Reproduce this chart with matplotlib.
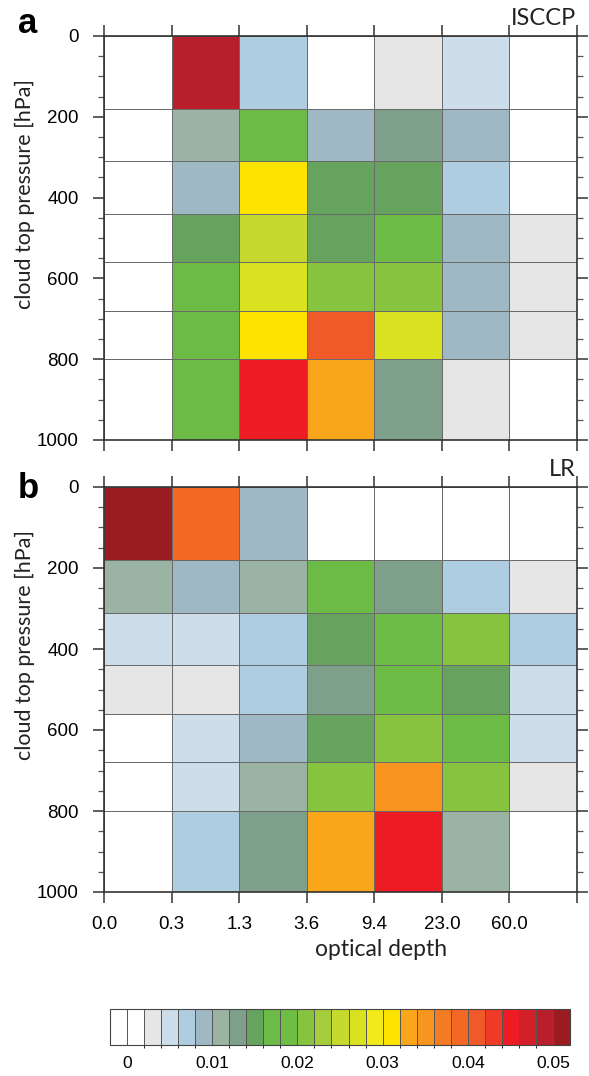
import numpy as np
import matplotlib.pyplot as plt
from matplotlib.colors import ListedColormap, BoundaryNorm
from matplotlib.ticker import MultipleLocator

# optical depth bin edges (labels) and cloud top pressure bin edges
tau_labels = ['0.0', '0.3', '1.3', '3.6', '9.4', '23.0', '60.0']
p_edges = [0, 180, 310, 440, 560, 680, 800, 1000]

# joint histograms, rows = pressure bins (top to bottom), cols = optical depth bins
isccp = [
    [0.001, 0.049, 0.007, 0.001, 0.003, 0.005, 0.001],
    [0.001, 0.011, 0.017, 0.009, 0.013, 0.009, 0.001],
    [0.001, 0.009, 0.031, 0.015, 0.015, 0.007, 0.001],
    [0.001, 0.015, 0.025, 0.015, 0.017, 0.009, 0.003],
    [0.001, 0.017, 0.027, 0.021, 0.021, 0.009, 0.003],
    [0.001, 0.017, 0.031, 0.041, 0.027, 0.009, 0.003],
    [0.001, 0.017, 0.045, 0.033, 0.013, 0.003, 0.001],
]
lr = [
    [0.052, 0.039, 0.009, 0.001, 0.001, 0.001, 0.001],
    [0.011, 0.009, 0.011, 0.017, 0.013, 0.007, 0.003],
    [0.005, 0.005, 0.007, 0.015, 0.017, 0.021, 0.007],
    [0.003, 0.003, 0.007, 0.013, 0.017, 0.015, 0.005],
    [0.001, 0.005, 0.009, 0.015, 0.021, 0.017, 0.005],
    [0.001, 0.005, 0.011, 0.021, 0.035, 0.021, 0.003],
    [0.001, 0.007, 0.013, 0.033, 0.045, 0.011, 0.001],
]

levels = np.linspace(0, 0.05, 26)
cbar_ticks = [0, 0.01, 0.02, 0.03, 0.04, 0.05]
cbar_labels = ['0', '0.01', '0.02', '0.03', '0.04', '0.05']

colors = ['#ffffff', '#ffffff', '#e6e6e6', '#cddeea', '#afcde0', '#9fb9c4',
          '#9bb3a3', '#7ea08a', '#65a35e', '#6bbb46', '#6ebe45', '#86c440',
          '#a5cd3a', '#c6d92e', '#d9e120', '#f3ea1b', '#fde400', '#faa61a',
          '#f7951e', '#f37b21', '#f26824', '#f05a28', '#ee3b27', '#ed1c24',
          '#d2202b', '#b91f2a', '#9a1c20']
cmap = ListedColormap(colors[1:-1])
cmap.set_under(colors[0])
cmap.set_over(colors[-1])
norm = BoundaryNorm(levels, cmap.N)

plt.rcParams['font.family'] = 'Liberation Sans'
label_font = 'Lato'

fig = plt.figure(figsize=(5.89, 10.76), dpi=100)
W, H = 589, 1076


def px_axes(x0, y0, x1, y1):
    return fig.add_axes([x0 / W, 1 - y1 / H, (x1 - x0) / W, (y1 - y0) / H])


ax_a = px_axes(104, 36, 577, 440)
ax_b = px_axes(104, 487, 577, 892)

x_edges = np.arange(len(tau_labels) + 1)
panels = [(ax_a, isccp, 'ISCCP', 'a', 25, 33),
          (ax_b, lr, 'LR', 'b', 476, 498)]
for ax, data, name, letter, name_y, letter_y in panels:
    mesh = ax.pcolormesh(x_edges, p_edges, np.array(data), cmap=cmap, norm=norm,
                         edgecolors='#6a6a6a', linewidth=0.6)
    ax.set_xlim(0, 7)
    ax.set_ylim(1000, 0)
    ax.set_yticks([0, 200, 400, 600, 800, 1000])
    ax.yaxis.set_minor_locator(MultipleLocator(50))
    ax.set_xticks(x_edges)
    ax.tick_params(which='major', direction='out', length=8, width=1.1,
                   color='#333333', labelsize=13.5, top=True, right=True,
                   labelright=False, labeltop=False)
    ax.tick_params(axis='y', which='major', pad=10)
    ax.tick_params(axis='x', which='major', pad=9)
    ax.tick_params(axis='y', which='minor', direction='out', length=4.5,
                   width=0.9, color='#555555', right=True)
    ax.tick_params(axis='x', which='minor', bottom=False, top=False)
    for s in ax.spines.values():
        s.set_linewidth(1.2)
        s.set_color('#333333')
    ax.set_ylabel('cloud top pressure [hPa]', fontsize=15.5, family=label_font,
                  color='#222222', va='center')
    ax.yaxis.set_label_coords(-0.167, 0.61)
    fig.text(576 / W, 1 - name_y / H, name, ha='right', va='baseline',
             fontsize=17, family=label_font, color='#222222')
    fig.text(18 / W, 1 - letter_y / H, letter, ha='left', va='baseline',
             fontsize=25, fontweight='bold')

ax_a.set_xticklabels([])
ax_b.set_xticklabels(tau_labels + [''])
ax_b.set_xlabel('optical depth', fontsize=16.5, family=label_font,
                color='#222222', va='center')
ax_b.xaxis.set_label_coords(0.586, -0.143)

cax = px_axes(110, 1009, 570, 1045)
cb = fig.colorbar(mesh, cax=cax, orientation='horizontal', extend='both',
                  extendrect=True, extendfrac=1 / 25, drawedges=True,
                  ticks=cbar_ticks)
cb.set_ticklabels(cbar_labels)
cb.ax.tick_params(length=0, labelsize=12.5, pad=8)
cb.outline.set_linewidth(0.8)
cb.outline.set_edgecolor('#444444')
cb.dividers.set_color('#555555')
cb.dividers.set_linewidth(0.7)

fig.savefig('out.png', dpi=100)
